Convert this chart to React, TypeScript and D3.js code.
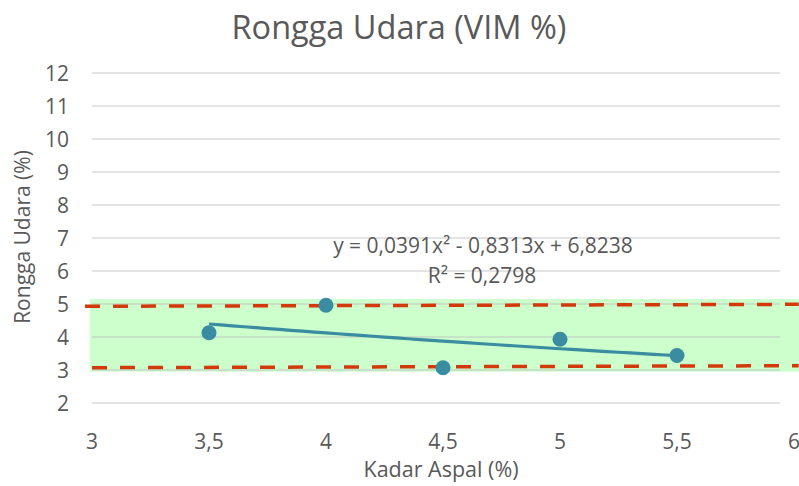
import React from "react";
import * as d3 from "d3";

const xValues = [3.5, 4, 4.5, 5, 5.5];
const yValues = [4.13, 4.96, 3.07, 3.93, 3.44];
const trendCoefs = [0.0391, -0.8313, 6.8238];
const xTicks = [3, 3.5, 4, 4.5, 5, 5.5, 6];
const yTicks = [2, 3, 4, 5, 6, 7, 8, 9, 10, 11, 12];
const upperLimit = [[2.97, 4.93], [6.02, 4.99]];
const lowerLimit = [[3.0, 3.07], [6.02, 3.13]];
const band = [2.95, 5.15];

const W = 799, H = 486;
const FONT = "'Open Sans', sans-serif";
const GREY = "#595959";

export default function App() {
  const x = d3.scaleLinear().domain([3, 6]).range([92, 794]);
  const y = d3.scaleLinear().domain([2, 12]).range([403, 73]);
  const fmt = (v: number) => String(v).replace(".", ",");
  const line = d3.line<number[]>().x(d => x(d[0])).y(d => y(d[1]));
  const trendPts: number[][] = d3.range(3.5, 5.5001, 0.05).map(v => [v, trendCoefs[0] * v * v + trendCoefs[1] * v + trendCoefs[2]]);

  return (
    <svg width={W} height={H} style={{ position: "absolute", left: 0, top: 0, background: "#fff" }}>
      <rect x={0} y={0} width={W} height={H} fill="#fff" />
      <text x={399} y={39} textAnchor="middle" fontFamily={FONT} fontSize={32.5} fill={GREY}>Rongga Udara (VIM %)</text>
      <rect x={x(2.99)} y={y(band[1])} width={W - x(2.99)} height={y(band[0]) - y(band[1])} fill="#ccffcc" />
      {yTicks.map(t => (
        <g key={t}>
          <line x1={x(3)} x2={x(6) - 14} y1={y(t)} y2={y(t)} stroke="#bfbfbf" strokeOpacity={0.6} strokeWidth={1.5} />
          <text x={69} y={y(t) + 7.5} textAnchor="end" fontFamily={FONT} fontSize={21} fill={GREY}>{t}</text>
        </g>
      ))}
      {xTicks.map(t => (
        <text key={t} x={x(t)} y={449} textAnchor="middle" fontFamily={FONT} fontSize={21} fill={GREY}>{fmt(t)}</text>
      ))}
      <text x={441} y={477} textAnchor="middle" fontFamily={FONT} fontSize={21.5} fill={GREY}>Kadar Aspal (%)</text>
      <text transform="translate(30,237) rotate(-90)" textAnchor="middle" fontFamily={FONT} fontSize={21} fill={GREY}>Rongga Udara (%)</text>
      <path d={line(upperLimit) || ""} stroke="#d23a0c" strokeWidth={3.5} strokeDasharray="15 13" fill="none" />
      <path d={line(lowerLimit) || ""} stroke="#d23a0c" strokeWidth={3.5} strokeDasharray="15 13" fill="none" />
      <path d={line(trendPts) || ""} stroke="#3a8ca0" strokeWidth={3.2} fill="none" />
      {xValues.map((v, i) => (
        <circle key={i} cx={x(v)} cy={y(yValues[i])} r={7.5} fill="#3a8ca0" />
      ))}
      <text x={483} y={253} textAnchor="middle" fontFamily={FONT} fontSize={21} fill={GREY}>y = 0,0391x² - 0,8313x + 6,8238</text>
      <text x={482} y={283} textAnchor="middle" fontFamily={FONT} fontSize={21} fill={GREY}>R² = 0,2798</text>
    </svg>
  );
}
